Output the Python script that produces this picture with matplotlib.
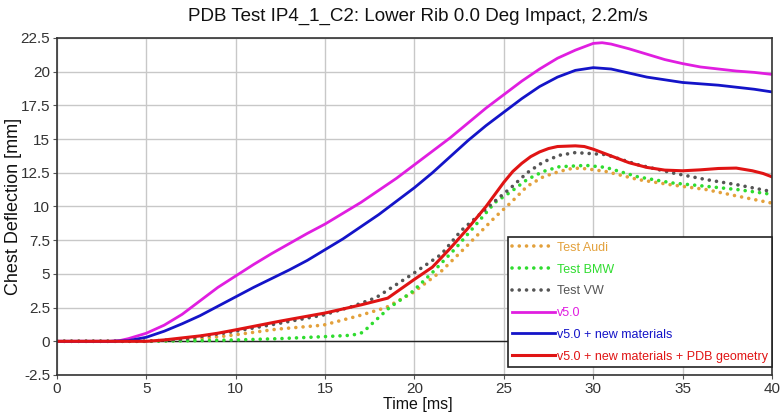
import matplotlib
matplotlib.use("Agg")
import matplotlib.pyplot as plt

plt.rcParams['font.family'] = ['Liberation Sans', 'DejaVu Sans']

# ---- data ----
t_audi = [0, 5, 7, 9.5, 12.3, 14.9, 16.9, 18.4, 19.9, 21.5, 22.8, 24.5, 25.4, 26.3, 27.2, 28.1, 28.9, 29.6, 30.7, 32.5, 34.4, 36.3, 38.1, 40]
v_audi = [0, 0, 0.1, 0.4, 0.9, 1.2, 1.9, 2.5, 3.6, 5.2, 6.9, 9.2, 10.3, 11.5, 12.2, 12.6, 12.85, 12.8, 12.6, 12.0, 11.6, 11.26, 10.76, 10.25]

t_bmw = [0, 5, 8, 10, 12.5, 15, 16.5, 17.1, 17.7, 18.6, 19.9, 21, 22.3, 24.5, 25.4, 26.3, 27.2, 28.1, 29.6, 30.7, 32.5, 34.4, 36.3, 38.1, 40]
v_bmw = [0, 0, 0.05, 0.1, 0.2, 0.35, 0.45, 0.65, 1.4, 2.5, 3.7, 5.1, 6.9, 10.3, 11.1, 12.0, 12.6, 12.95, 13.05, 12.9, 12.2, 11.75, 11.5, 11.25, 10.9]

t_vw = [0, 5, 7, 9.56, 12.3, 14.9, 16.55, 17.85, 19.87, 21.5, 22.6, 24.5, 25.4, 26.3, 27.2, 28.1, 29, 30.7, 32.5, 34.4, 36.3, 38.1, 40]
v_vw = [0, 0, 0.15, 0.65, 1.3, 1.95, 2.6, 3.24, 4.97, 6.45, 8.2, 10.4, 11.4, 12.5, 13.3, 13.8, 14.0, 13.85, 13.1, 12.5, 12.0, 11.6, 11.1]

t_v50 = [0, 3, 3.5, 4, 5, 6, 7, 8, 9, 10, 11, 12, 13, 14, 15, 16, 17, 18, 19, 20, 21, 22, 23, 24, 25, 26, 27, 28, 29, 30, 30.5, 31, 32, 33, 34, 35, 36, 37, 38, 39, 40]
v_v50 = [0, 0, 0.05, 0.2, 0.6, 1.2, 2.0, 3.0, 4.0, 4.85, 5.7, 6.5, 7.25, 8.0, 8.7, 9.5, 10.3, 11.2, 12.1, 13.1, 14.1, 15.1, 16.2, 17.3, 18.3, 19.3, 20.2, 21.0, 21.6, 22.1, 22.15, 22.05, 21.7, 21.3, 20.9, 20.6, 20.35, 20.2, 20.05, 19.95, 19.8]

t_newmat = [0, 3, 4, 5, 6, 7, 8, 9, 10, 11, 12, 13, 14, 15, 16, 17, 18, 19, 20, 21, 22, 23, 24, 25, 26, 27, 28, 29, 30, 31, 32, 33, 34, 35, 36, 37, 38, 39, 40]
v_newmat = [0, 0, 0.05, 0.3, 0.75, 1.3, 1.9, 2.6, 3.3, 4.0, 4.65, 5.3, 6.0, 6.8, 7.6, 8.5, 9.4, 10.4, 11.4, 12.5, 13.7, 14.9, 16.0, 17.0, 18.0, 18.9, 19.6, 20.1, 20.3, 20.2, 19.9, 19.6, 19.4, 19.2, 19.1, 19.0, 18.85, 18.7, 18.5]

t_pdb = [0, 5, 6, 7, 8, 9, 10, 12.5, 15, 17, 18.5, 20, 21, 22, 23, 24, 24.5, 25, 25.5, 26, 26.5, 27, 27.5, 28, 29, 29.5, 30, 31, 32, 33, 34, 35, 36, 37, 38, 38.9, 39.5, 40]
v_pdb = [0, 0, 0.1, 0.25, 0.4, 0.6, 0.85, 1.5, 2.1, 2.7, 3.2, 4.6, 5.5, 6.9, 8.4, 10.0, 10.9, 11.8, 12.6, 13.2, 13.7, 14.05, 14.3, 14.45, 14.5, 14.45, 14.25, 13.75, 13.25, 12.9, 12.7, 12.65, 12.72, 12.82, 12.85, 12.65, 12.45, 12.2]

labels = ["Test Audi", "Test BMW", "Test VW", "v5.0", "v5.0 + new materials",
          "v5.0 + new materials + PDB geometry"]
x_ticks = [0, 5, 10, 15, 20, 25, 30, 35, 40]
y_ticks = [-2.5, 0, 2.5, 5, 7.5, 10, 12.5, 15, 17.5, 20, 22.5]
y_ticklabels = ["-2.5", "0", "2.5", "5", "7.5", "10", "12.5", "15", "17.5", "20", "22.5"]

# ---- plot ----
W, H = 780, 418
fig = plt.figure(figsize=(W / 100, H / 100), dpi=100)
L, R, T, B = 57, 772, 38, 375
ax = fig.add_axes([L / W, 1 - B / H, (R - L) / W, (B - T) / H])

dot = (0, (0.01, 2.0))
c_audi, c_bmw, c_vw = "#e3a13c", "#2fdc2f", "#555555"
c_v50, c_new, c_pdb = "#e01ee0", "#1414c8", "#e01414"
ax.plot(t_audi, v_audi, color=c_audi, lw=2.6, ls=dot, dash_capstyle="round", label=labels[0])
ax.plot(t_bmw, v_bmw, color=c_bmw, lw=2.6, ls=dot, dash_capstyle="round", label=labels[1])
ax.plot(t_vw, v_vw, color=c_vw, lw=2.6, ls=dot, dash_capstyle="round", label=labels[2])
ax.plot(t_v50, v_v50, color=c_v50, lw=2.0, label=labels[3])
ax.plot(t_newmat, v_newmat, color=c_new, lw=2.0, label=labels[4])
ax.plot(t_pdb, v_pdb, color=c_pdb, lw=2.2, label=labels[5])

ax.axhline(0, color="#222222", lw=1.0, zorder=1)
ax.set_xlim(0, 40)
ax.set_ylim(-2.5, 22.5)
ax.set_xticks(x_ticks)
ax.set_xticklabels([str(x) for x in x_ticks])
ax.set_yticks(y_ticks)
ax.set_yticklabels(y_ticklabels)
ax.grid(True, color="#c8c8c8", lw=1.0)
ax.set_axisbelow(True)
for s in ax.spines.values():
    s.set_color("#333333")
    s.set_linewidth(1.2)
ax.tick_params(labelsize=11, length=3, width=0.8, color="#555555", labelcolor="#333333", pad=2)

fig.text(0.5 * (57 + 779) / W, 1 - 16 / H, "PDB Test IP4_1_C2: Lower Rib 0.0 Deg Impact, 2.2m/s",
         fontsize=13.5, ha="center", va="center", color="#111111")
fig.text(418 / W, 1 - 405 / H, "Time [ms]", fontsize=11.5, ha="center", va="center", color="#111111")
fig.text(14 / W, 1 - 206 / H, "Chest Deflection [mm]", fontsize=13, rotation=90,
         ha="center", va="center", color="#111111")

leg = ax.legend(loc="lower right", bbox_to_anchor=(1.0, 0.024), fontsize=9,
                frameon=True, fancybox=False, framealpha=1, edgecolor="#222222",
                handlelength=3.4, handletextpad=0.15, labelspacing=0.78, borderpad=0.35,
                borderaxespad=0)
leg.get_frame().set_linewidth(1.2)
for txt, col in zip(leg.get_texts(), [c_audi, c_bmw, c_vw, c_v50, c_new, c_pdb]):
    txt.set_color(col)

fig.savefig("out.png", dpi=100)
